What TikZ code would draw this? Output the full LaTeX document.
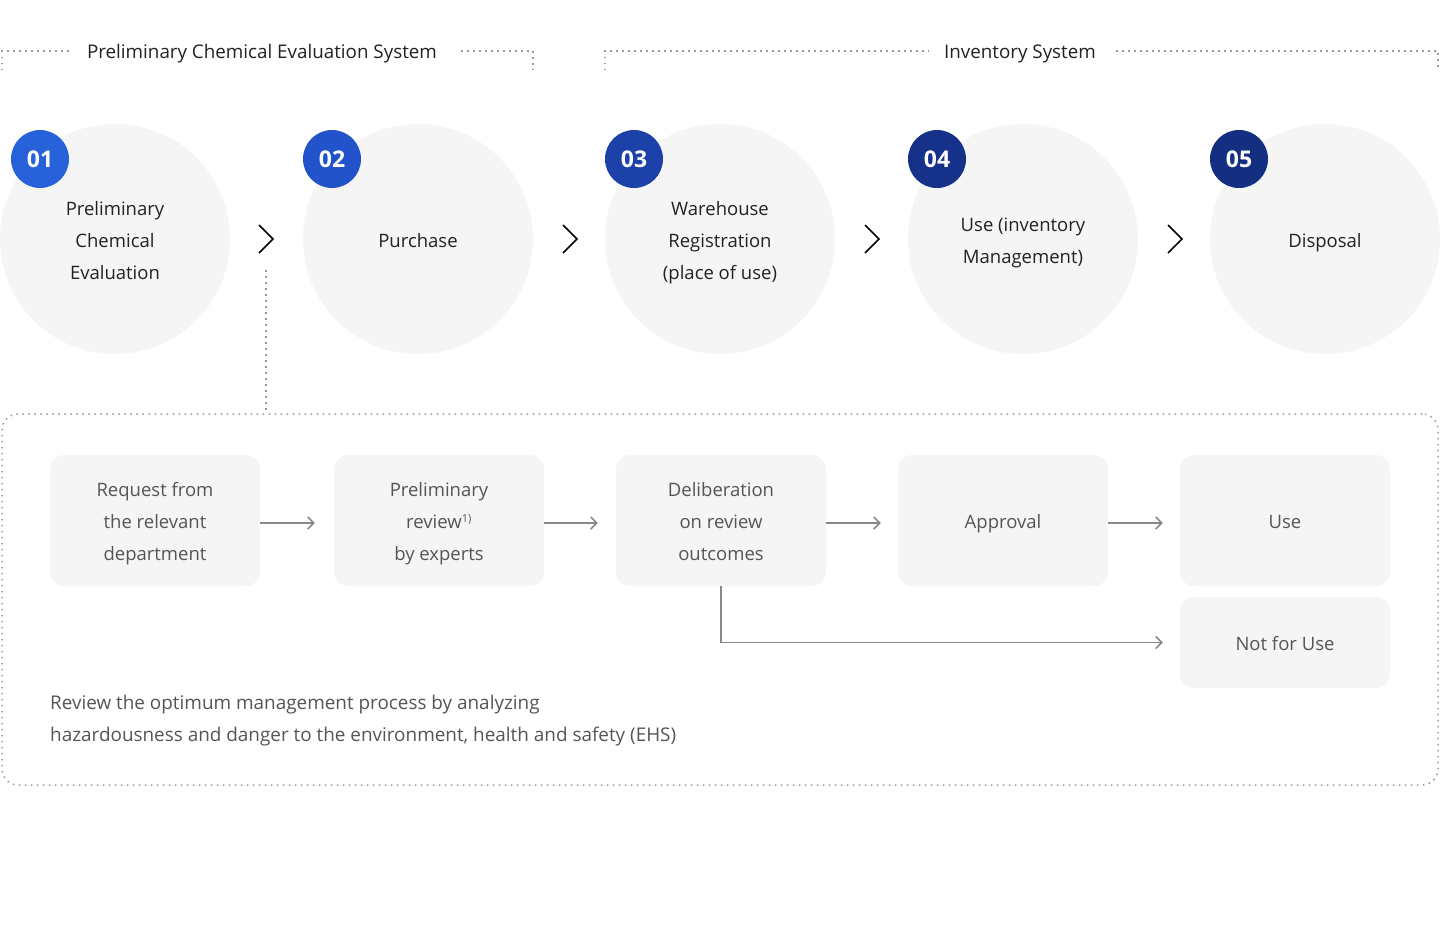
\documentclass[tikz,border=0pt]{standalone}
\usepackage{fontspec}
\setmainfont{Open Sans}
\usetikzlibrary{arrows.meta,calc}
\definecolor{circbg}{HTML}{F5F5F5}
\definecolor{boxbg}{HTML}{F5F5F5}
\definecolor{txtgray}{HTML}{555555}
\definecolor{txtdark}{HTML}{222222}
\definecolor{linegray}{HTML}{888888}
\definecolor{dotgray}{HTML}{9A9A9A}
\definecolor{bA}{HTML}{2762DA}
\definecolor{bB}{HTML}{2253CB}
\definecolor{bC}{HTML}{1C41A9}
\definecolor{bD}{HTML}{15318A}
\definecolor{bE}{HTML}{142F82}
\newcommand\sln{\rule[-7.6pt]{0pt}{32pt}}
\tikzset{
  bigcirc/.style={circle, fill=circbg, minimum size=230pt, inner sep=0pt, align=center,
    text=txtdark, font=\fontsize{18.5}{32}\selectfont},
  badge/.style={circle, fill=#1, minimum size=58pt, inner sep=0pt, text=white,
    font=\fontsize{23}{23}\selectfont\bfseries},
  chev/.style={draw=black, line width=1.6pt, line join=miter},
  dotline/.style={draw=dotgray, line width=1.5pt, dash pattern=on 1.5pt off 4.5pt},
  hdr/.style={text=txtdark, font=\fontsize{18.8}{24}\selectfont, inner xsep=0pt},
  stepbox/.style={rounded corners=14pt, fill=boxbg, minimum width=210pt, minimum height=131pt,
    align=center, text=txtgray, font=\fontsize{18.5}{32}\selectfont, inner sep=0pt},
  arr/.style={draw=linegray, line width=1.5pt, -{Straight Barb[length=6pt,width=12pt,line width=1.5pt]}},
}
\begin{document}
\begin{tikzpicture}[x=1pt,y=-1pt]
\useasboundingbox[fill=white] (0,0) rectangle (1440,926);

% headers
\node[hdr] (h1) at (262,54) {Preliminary Chemical Evaluation System};
\node[hdr] (h2) at (1020,54) {Inventory System};
\draw[dotline] (2,70) -- (2,51) -- ($(h1.west)+(-14,-3)$);
\draw[dotline] ($(h1.east)+(24,-3)$) -- (533,51) -- (533,70);
\draw[dotline] (605,70) -- (605,51) -- ($(h2.west)+(-15,-3)$);
\draw[dotline] ($(h2.east)+(20,-3)$) -- (1438,51) -- (1438,70);

% circles
\node[bigcirc] (c1) at (115,239) {\sln Preliminary\\\sln Chemical\\\sln Evaluation};
\node[bigcirc] (c2) at (418,239) {\sln Purchase};
\node[bigcirc] (c3) at (720,239) {\sln Warehouse\\\sln Registration\\\sln (place of use)};
\node[bigcirc] (c4) at (1023,239) {\sln Use (inventory\\\sln Management)};
\node[bigcirc] (c5) at (1325,239) {\sln Disposal};

% badges
\node[badge=bA] (n1) at (40,159) {01};
\node[badge=bB] (n2) at (332,159) {02};
\node[badge=bC] (n3) at (634,159) {03};
\node[badge=bD] (n4) at (937,159) {04};
\node[badge=bE] (n5) at (1239,159) {05};

% chevrons
\foreach \i/\x in {1/266,2/570,3/872,4/1175}{
  \coordinate (ch\i) at (\x,239);
  \draw[chev] ($(ch\i)+(-7,-14)$) -- ($(ch\i)+(7,0)$) -- ($(ch\i)+(-7,14)$);
}

% big dotted box
\node[draw=dotgray, line width=1.5pt, dash pattern=on 1.5pt off 4.5pt, rounded corners=16pt,
  minimum width=1436pt, minimum height=371pt, inner sep=0pt] (big) at (720,599.5) {};
\draw[dotline] ($(ch1)+(0,31)$) -- (ch1 |- big.north);

% step boxes
\node[stepbox] (b1) at (155,520.5) {\sln Request from\\\sln the relevant\\\sln department};
\node[stepbox] (b2) at (439,520.5) {\sln Preliminary\\\sln review\textsuperscript{\fontsize{11}{11}\selectfont 1)}\\\sln by experts};
\node[stepbox] (b3) at (721,520.5) {\sln Deliberation\\\sln on review\\\sln outcomes};
\node[stepbox] (b4) at (1003,520.5) {\sln Approval};
\node[stepbox] (b5) at (1285,520.5) {\sln Use};
\node[stepbox, minimum height=91pt] (b6) at (1285,642.5) {\sln Not for Use};

\draw[arr, shorten >=19pt] (b1.east |- 0,523) -- (b2.west |- 0,523);
\draw[arr, shorten >=18pt] (b2.east |- 0,523) -- (b3.west |- 0,523);
\draw[arr, shorten >=17pt] (b3.east |- 0,523) -- (b4.west |- 0,523);
\draw[arr, shorten >=17pt] (b4.east |- 0,523) -- (b5.west |- 0,523);
\draw[arr, shorten >=17pt] (b3.south) |- (b6.west);

% note
\node[anchor=north west, align=left, text=txtgray, font=\fontsize{18.9}{32}\selectfont, inner sep=0pt] (note) at (50,695)
  {Review the optimum management process by analyzing\\hazardousness and danger to the environment, health and safety (EHS)};
\end{tikzpicture}
\end{document}
